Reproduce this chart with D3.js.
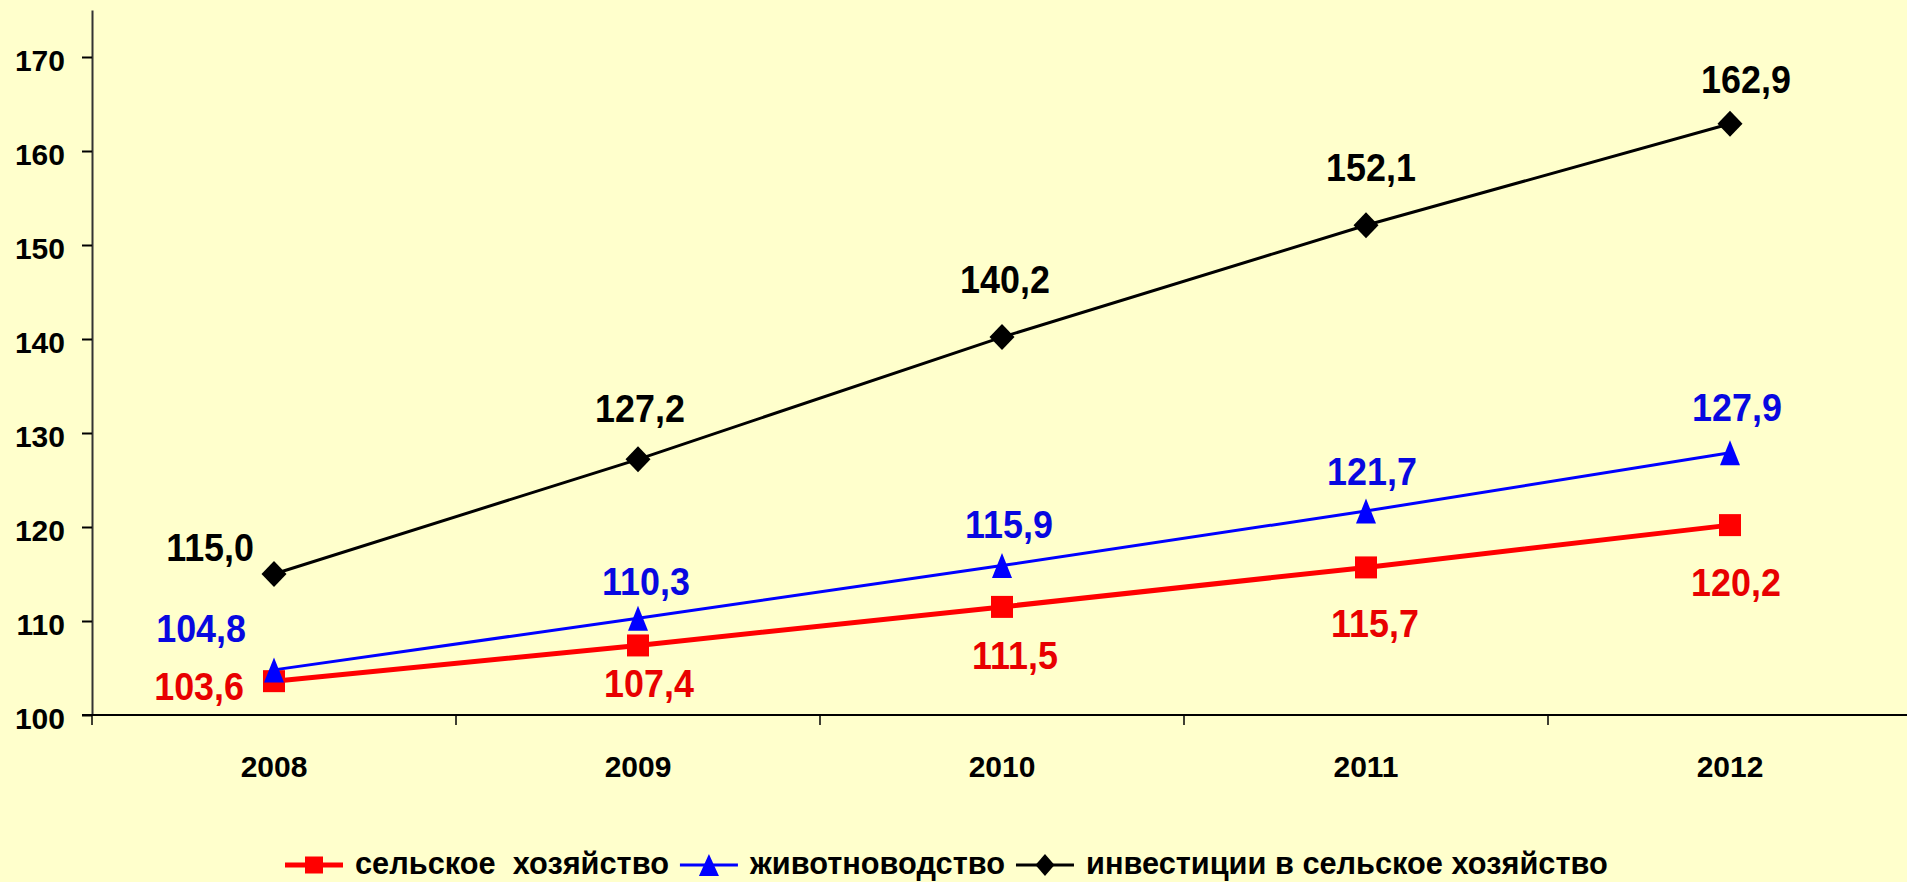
<!DOCTYPE html>
<html>
<head>
<meta charset="utf-8">
<script src="https://cdn.jsdelivr.net/npm/d3@7"></script>
<style>
  html, body { margin: 0; padding: 0; background: #FFFFCC; }
  svg { display: block; }
  text { font-family: Arial, "Liberation Sans", sans-serif; font-weight: bold; }
</style>
</head>
<body>
<svg width="1907" height="882"></svg>
<script>
// data
var years = ["2008", "2009", "2010", "2011", "2012"];
var agriculture = [103.6, 107.4, 111.5, 115.7, 120.2];
var livestock = [104.8, 110.3, 115.9, 121.7, 127.9];
var investment = [115.0, 127.2, 140.2, 152.1, 162.9];
var seriesNames = ["сельское  хозяйство", "животноводство", "инвестиции в сельское хозяйство"];
var yTicks = [100, 110, 120, 130, 140, 150, 160, 170];

var svg = d3.select("svg"),
    width = +svg.attr("width"),
    height = +svg.attr("height");

var x = d3.scaleBand().domain(years).range([92, 1912]).padding(0);
var y = d3.scaleLinear().domain([100, 175]).range([715, 10]);
var cx = function(i) { return x(years[i]) + x.bandwidth() / 2; };

// series styles + label nudges (pixels from the point, label centre)
var series = [
  {name: seriesNames[0], values: agriculture, color: "#FF0000", text: "#E80000", lw: 5,
   marker: "square", mw: 22, mh: 22,
   ldx: [-30, 11, 13, 9, 6], ldy: [5, 38, 48, 56, 57]},
  {name: seriesNames[1], values: livestock, color: "#0000FF", text: "#0808E0", lw: 3,
   marker: "triangle", mw: 20, mh: 25,
   ldx: [-28, 8, 7, 6, 7], ldy: [-42, -37, -42, -40, -46]},
  {name: seriesNames[2], values: investment, color: "#000000", text: "#000000", lw: 3,
   marker: "diamond", mw: 25, mh: 26,
   ldx: [-20, 2, 3, 5, 16], ldy: [-27, -51, -58, -58, -45]}
];

function markerPath(type, w, h) {
  var p = d3.path();
  if (type === "square") {
    p.rect(-w / 2, -h / 2, w, h);
  } else if (type === "triangle") {
    p.moveTo(0, -h / 2); p.lineTo(w / 2, h / 2); p.lineTo(-w / 2, h / 2); p.closePath();
  } else {
    p.moveTo(0, -h / 2); p.lineTo(w / 2, 0); p.lineTo(0, h / 2); p.lineTo(-w / 2, 0); p.closePath();
  }
  return p.toString();
}

// y axis
var yAxis = svg.append("g")
    .attr("transform", "translate(92,0)")
    .call(d3.axisLeft(y).tickValues(yTicks).tickSize(10).tickSizeOuter(0).tickPadding(17));
yAxis.select(".domain").attr("stroke", "#333").attr("stroke-width", 2);
yAxis.selectAll(".tick line").attr("stroke", "#000").attr("stroke-width", 2);
yAxis.selectAll(".tick text")
    .attr("font-size", 30).attr("fill", "#000").attr("dy", "0.45em")
    .attr("font-family", "Arial, 'Liberation Sans', sans-serif");

// x axis: line, boundary ticks, centered labels
svg.append("line")
    .attr("x1", 82).attr("x2", width)
    .attr("y1", y(100)).attr("y2", y(100))
    .attr("stroke", "#000").attr("stroke-width", 2);

var bounds = years.map(function(d) { return x(d); });
svg.append("g").selectAll("line")
    .data(bounds)
    .enter().append("line")
      .attr("x1", function(d) { return d; }).attr("x2", function(d) { return d; })
      .attr("y1", y(100)).attr("y2", y(100) + 10)
      .attr("stroke", "#000").attr("stroke-width", 1.5);

var xAxis = svg.append("g")
    .attr("transform", "translate(0," + y(100) + ")")
    .call(d3.axisBottom(x).tickSize(0).tickPadding(41));
xAxis.select(".domain").remove();
xAxis.selectAll(".tick text")
    .attr("font-size", 30).attr("fill", "#000")
    .attr("font-family", "Arial, 'Liberation Sans', sans-serif");

// lines + markers
var line = d3.line()
    .x(function(d, i) { return cx(i); })
    .y(function(d) { return y(d); });

series.forEach(function(s) {
  var g = svg.append("g");
  g.append("path")
      .datum(s.values)
      .attr("d", line)
      .attr("fill", "none")
      .attr("stroke", s.color)
      .attr("stroke-width", s.lw)
      .attr("stroke-linejoin", "round");
  g.selectAll(".mk")
      .data(s.values)
      .enter().append("path")
        .attr("class", "mk")
        .attr("d", markerPath(s.marker, s.mw, s.mh))
        .attr("transform", function(d, i) { return "translate(" + cx(i) + "," + y(d) + ")"; })
        .attr("fill", s.color);
});

// data labels
var fmt = function(v) { return v.toFixed(1).replace(".", ","); };
series.forEach(function(s) {
  svg.append("g").selectAll("text")
      .data(s.values)
      .enter().append("text")
        .attr("transform", function(d, i) {
          return "translate(" + (cx(i) + s.ldx[i]) + "," + (y(d) + s.ldy[i]) + ") scale(0.92,1)";
        })
        .attr("text-anchor", function(d, i) { return i === 0 ? "end" : "middle"; })
        .attr("dy", "0.36em")
        .attr("font-size", 39)
        .attr("fill", s.text)
        .text(fmt);
});

// legend, squeezed horizontally so it spans 285..1608 like the original
var legend = svg.append("g").attr("transform", "translate(0,865)");
var lineW = 58, gapText = 12, gapItem = 11;
var legendLeft = 285, legendRight = 1608;

var texts = series.map(function(s) {
  return legend.append("text")
      .attr("font-size", 32)
      .attr("fill", "#000")
      .style("white-space", "pre")
      .text(s.name);
});
var natural = d3.sum(texts, function(t) { return t.node().getComputedTextLength(); });
var fixed = series.length * (lineW + gapText) + (series.length - 1) * gapItem;
var sx = (legendRight - legendLeft - fixed) / natural;

var lx = legendLeft;
series.forEach(function(s, k) {
  legend.append("line")
      .attr("x1", lx).attr("x2", lx + lineW)
      .attr("stroke", s.color).attr("stroke-width", s.lw);
  var mw = s.marker === "square" ? 18 : (s.marker === "triangle" ? 20 : 19);
  var mh = s.marker === "square" ? 17 : 22;
  legend.append("path")
      .attr("d", markerPath(s.marker, mw, mh))
      .attr("transform", "translate(" + (lx + lineW / 2) + ",0)")
      .attr("fill", s.color);
  lx += lineW + gapText;
  texts[k].attr("transform", "translate(" + lx + ",9) scale(" + sx + ",1)");
  lx += texts[k].node().getComputedTextLength() * sx + gapItem;
});
</script>
</body>
</html>
